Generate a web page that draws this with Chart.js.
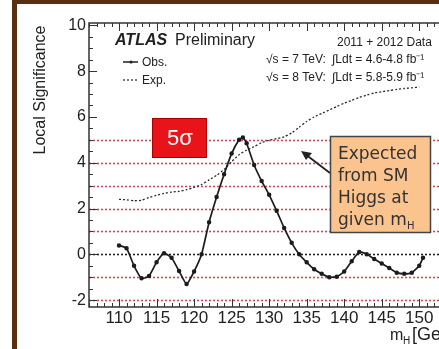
<!DOCTYPE html>
<html>
<head>
<meta charset="utf-8">
<script src="https://cdn.jsdelivr.net/npm/chart.js@4/dist/chart.umd.min.js"></script>
<style>
  html, body { margin: 0; padding: 0; background: #fff; overflow: hidden; }
  #frame { position: absolute; left: 12px; top: 0; width: 440px; height: 345px;
           border-left: 5px solid #5a2e10; border-top: 4px solid #5a2e10; border-bottom: 2px solid #cdb593; }
  #profileChart { position: absolute; left: 0; top: 0; }
</style>
</head>
<body>
<div id="frame"></div>
<canvas id="profileChart" width="470" height="349"></canvas>
<script>
// Higgs mass points (GeV) and local significance (sigma)
const massObs = [110,111,112,113,114,115,116,117,118,119,120,121,122,123,124,125,126,126.5,127,128,129,130,
                 131,132,133,134,135,136,137,138,139,140,141,142,143,144,145,146,147,148,149,150,150.5];
const obsSig = [0.39,0.26,-0.5,-1.05,-0.95,-0.35,0.05,-0.15,-0.73,-1.3,-0.75,0.0,1.4,2.5,3.5,4.4,5.0,5.1,4.85,3.9,3.2,2.6,
                1.9,1.15,0.5,0.0,-0.35,-0.65,-0.85,-1.0,-0.98,-0.75,-0.3,0.1,0.0,-0.2,-0.4,-0.6,-0.8,-0.85,-0.8,-0.5,-0.15];
const massExp = [110,111,112,113,114,115,116,117,118,119,120,121,122,123,124,125,126,127,128,129,130,
                 131,132,133,134,135,136,137,138,139,140,141,142,143,144,145,146,147,148,149,150];
const expSig = [2.4,2.38,2.34,2.36,2.48,2.58,2.66,2.72,2.75,2.82,2.92,3.05,3.25,3.45,3.7,4.05,4.35,4.55,4.7,4.88,4.98,
                5.05,5.13,5.3,5.55,5.8,6.0,6.15,6.3,6.45,6.6,6.72,6.85,6.95,7.05,7.1,7.15,7.2,7.24,7.27,7.3];
const xTicks = [110,115,120,125,130,135,140,145,150];
const yTicks = [-2,0,2,4,6,8,10];
const sigmaLines = [-2,-1,1,2,3,4,5];
const zeroLine = 0;

const FONT = '"Liberation Sans", Arial, sans-serif';

const decor = {
    id: 'decor',
    beforeDatasetsDraw(chart) {
        const c = chart.ctx, a = chart.chartArea, y = chart.scales.y;
        c.save();
        c.lineWidth = 1.6;
        c.setLineDash([2, 2]);
        c.strokeStyle = '#d24a5a';
        sigmaLines.forEach(v => {
            const py = Math.round(y.getPixelForValue(v)) + 0.5;
            c.beginPath(); c.moveTo(a.left, py); c.lineTo(a.right, py); c.stroke();
        });
        c.strokeStyle = '#222';
        const pz = Math.round(y.getPixelForValue(zeroLine)) + 0.5;
        c.beginPath(); c.moveTo(a.left, pz); c.lineTo(a.right, pz); c.stroke();
        c.restore();
    },
    afterDraw(chart) {
        const c = chart.ctx, a = chart.chartArea, xs = chart.scales.x, ys = chart.scales.y;
        c.save();
        // frame
        c.strokeStyle = '#333';
        c.lineWidth = 1.5;
        c.beginPath();
        c.moveTo(a.right + 5, a.top); c.lineTo(a.left, a.top); c.lineTo(a.left, a.bottom); c.lineTo(a.right + 5, a.bottom);
        c.stroke();
        // inner tick marks
        c.lineWidth = 1;
        for (let m = 106; m <= 156; m++) {
            const px = Math.round(xs.getPixelForValue(m)) + 0.5;
            const len = (m % 5 === 0) ? 8 : 4;
            c.beginPath();
            c.moveTo(px, a.bottom); c.lineTo(px, a.bottom - len);
            c.moveTo(px, a.top); c.lineTo(px, a.top + len);
            c.stroke();
        }
        for (let v = -2; v <= 10; v += 0.5) {
            const py = Math.round(ys.getPixelForValue(v)) + 0.5;
            const len = (v % 2 === 0) ? 8 : 4;
            c.beginPath(); c.moveTo(a.left, py); c.lineTo(a.left + len, py); c.stroke();
        }

        // axis titles
        c.fillStyle = '#222';
        c.font = '16px ' + FONT;
        c.save();
        c.translate(41, 90);
        c.rotate(-Math.PI / 2);
        c.textAlign = 'center';
        c.textBaseline = 'middle';
        c.fillText('Local Significance', 0, 0);
        c.restore();
        c.textBaseline = 'alphabetic';
        c.font = '16px ' + FONT;
        c.fillText('m', 390, 340);
        c.font = '10px ' + FONT;
        c.fillText('H', 403, 344);
        c.font = '18px ' + FONT;
        c.fillText('[GeV]', 412, 340);

        // header
        c.font = 'italic bold 16px ' + FONT;
        c.fillText('ATLAS', 115, 45);
        c.font = '16px ' + FONT;
        c.fillText('Preliminary', 175, 45);
        c.font = '12px ' + FONT;
        c.fillText('2011 + 2012 Data', 337, 46);
        c.fillText('\u221As = 7 TeV:', 266, 63);
        c.fillText('\u221As = 8 TeV:', 266, 81);
        c.fillText('\u222BLdt = 4.6-4.8 fb\u207B\u00B9', 332, 63);
        c.fillText('\u222BLdt = 5.8-5.9 fb\u207B\u00B9', 332, 81);

        // legend
        c.fillText('Obs.', 142, 66);
        c.fillText('Exp.', 142, 84);
        c.strokeStyle = '#222';
        c.lineWidth = 1.5;
        c.beginPath(); c.moveTo(123, 62); c.lineTo(138, 62); c.stroke();
        c.beginPath(); c.arc(131, 62, 1.6, 0, Math.PI * 2); c.fill();
        c.setLineDash([2, 2]);
        c.lineWidth = 1.2;
        c.beginPath(); c.moveTo(123, 80); c.lineTo(138, 80); c.stroke();
        c.setLineDash([]);

        // 5 sigma box
        c.fillStyle = '#e8141a';
        c.fillRect(152, 118, 55, 40);
        c.strokeStyle = '#a00';
        c.lineWidth = 1;
        c.strokeRect(152.5, 118.5, 54, 39);
        c.fillStyle = '#fff';
        c.font = '22px ' + FONT;
        c.textAlign = 'center';
        c.textBaseline = 'middle';
        c.fillText('5\u03C3', 180, 139);

        // expected annotation
        c.fillStyle = '#fbc48e';
        c.fillRect(330, 136, 101, 97);
        c.strokeStyle = '#444';
        c.lineWidth = 1.5;
        c.strokeRect(330.5, 136.5, 100, 96);
        c.fillStyle = '#333';
        c.textAlign = 'left';
        c.textBaseline = 'alphabetic';
        c.font = '17px "DejaVu Sans", sans-serif';
        c.fillText('Expected', 338, 159);
        c.fillText('from SM', 338, 181);
        c.fillText('Higgs at', 338, 203);
        c.fillText('given m', 338, 225);
        c.font = '10px "DejaVu Sans", sans-serif';
        c.fillText('H', 407, 229);

        // arrow
        c.strokeStyle = '#222';
        c.lineWidth = 1.8;
        c.beginPath(); c.moveTo(330, 173); c.lineTo(305, 154); c.stroke();
        c.fillStyle = '#222';
        c.beginPath();
        c.moveTo(301, 151); c.lineTo(312, 153); c.lineTo(306, 160); c.closePath(); c.fill();
        c.restore();
    }
};

const ctxChart = document.getElementById('profileChart');
window.chartObject = new Chart(ctxChart, {
    type: 'line',
    data: {
        datasets: [{
            label: 'Obs.',
            data: massObs.map((m, i) => ({ x: m, y: obsSig[i] })),
            borderColor: '#1c1c1c',
            backgroundColor: '#1c1c1c',
            borderWidth: 1.7,
            pointRadius: 1.4,
            tension: 0.15
        }, {
            label: 'Exp.',
            data: massExp.map((m, i) => ({ x: m, y: expSig[i] })),
            borderColor: '#2a2a2a',
            borderWidth: 1.3,
            borderDash: [2, 2],
            pointRadius: 0,
            tension: 0.2
        }]
    },
    options: {
        responsive: false,
        animation: false,
        layout: { padding: { top: 23, left: 0, right: 0, bottom: 0 } },
        plugins: { legend: { display: false }, tooltip: { enabled: false } },
        scales: {
            x: {
                type: 'linear',
                min: 106,
                max: 156,
                afterBuildTicks: s => { s.ticks = xTicks.map(v => ({ value: v })); },
                afterFit: s => { s.height = 42; },
                ticks: { color: '#222', font: { family: FONT, size: 17 }, padding: 1, maxRotation: 0, autoSkip: false },
                grid: { display: false, drawTicks: false },
                border: { display: false }
            },
            y: {
                type: 'linear',
                min: -2.3,
                max: 10.1,
                afterBuildTicks: s => { s.ticks = yTicks.map(v => ({ value: v })); },
                afterFit: s => { s.width = 89; },
                ticks: { color: '#222', font: { family: FONT, size: 16 }, padding: 3 },
                grid: { display: false, drawTicks: false },
                border: { display: false }
            }
        }
    },
    plugins: [decor]
});
</script>
</body>
</html>
